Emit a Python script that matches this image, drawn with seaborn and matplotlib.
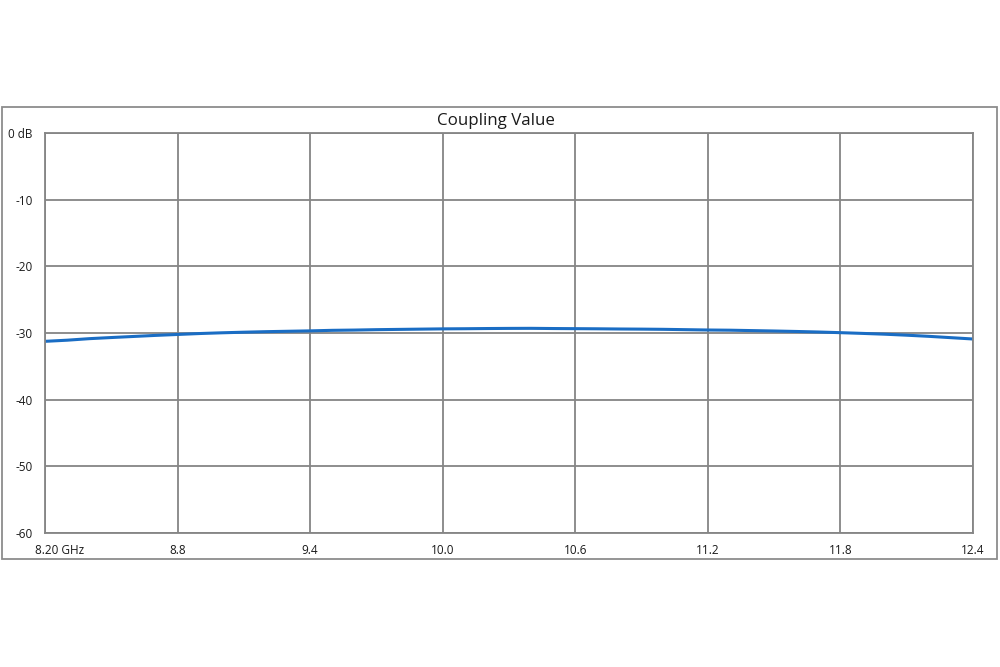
import numpy as np
import pandas as pd
import matplotlib
matplotlib.use("Agg")
import matplotlib.pyplot as plt
import matplotlib.transforms as mtransforms
from matplotlib.patches import Rectangle
import seaborn as sns

# -----------------------------------
# DATA
# -----------------------------------

freq_ghz = [8.2, 8.3, 8.4, 8.5, 8.6, 8.7, 8.8, 8.9, 9.0, 9.1, 9.2,
            9.3, 9.4, 9.5, 9.6, 9.7, 9.8, 9.9, 10.0, 10.1, 10.2,
            10.3, 10.4, 10.5, 10.6, 10.7, 10.8, 10.9, 11.0, 11.1, 11.2,
            11.3, 11.4, 11.5, 11.6, 11.7, 11.8, 11.9, 12.0, 12.1, 12.2,
            12.3, 12.4]

coupling_db = [-31.25, -31.08, -30.85, -30.68, -30.52, -30.36, -30.22, -30.08, -29.97, -29.88, -29.80,
               -29.74, -29.68, -29.60, -29.56, -29.50, -29.46, -29.42, -29.38, -29.36, -29.33,
               -29.31, -29.30, -29.33, -29.35, -29.37, -29.40, -29.42, -29.45, -29.50, -29.55,
               -29.58, -29.64, -29.70, -29.77, -29.85, -29.95, -30.06, -30.18, -30.33, -30.50,
               -30.70, -30.90]

x_ticks = [8.2, 8.8, 9.4, 10.0, 10.6, 11.2, 11.8, 12.4]
x_labels = ["8.20 GHz", "8.8", "9.4", "10.0", "10.6", "11.2", "11.8", "12.4"]
y_ticks = [0, -10, -20, -30, -40, -50, -60]
y_labels = ["0 dB", "-10", "-20", "-30", "-40", "-50", "-60"]

df = pd.DataFrame({"freq": freq_ghz, "coupling": coupling_db})

# -----------------------------------
# PLOT
# -----------------------------------

sns.set_theme(style="white")
plt.rcParams["font.family"] = ["Open Sans", "DejaVu Sans"]

fig = plt.figure(figsize=(10, 6.67), dpi=100)
ax = fig.add_axes([0.045, 0.2009, 0.928, 0.5997])

# outer frame around the whole chart
fig.patches.append(Rectangle((0.002, 0.162), 0.995, 0.678,
                             transform=fig.transFigure, fill=False,
                             edgecolor="#8c8c8c", linewidth=1.3))

sns.lineplot(data=df, x="freq", y="coupling", ax=ax,
             color="#1a6dc4", linewidth=2.2)

ax.set_xlim(8.2, 12.4)
ax.set_ylim(-60, 0)
ax.set_xticks(x_ticks)
ax.set_xticklabels(x_labels)
ax.set_yticks(y_ticks)
ax.set_yticklabels(y_labels)
ax.set_xlabel("")
ax.set_ylabel("")

ax.grid(True, color="#858585", linewidth=1.3)
ax.set_axisbelow(True)
for s in ax.spines.values():
    s.set_color("#858585")
    s.set_linewidth(1.3)

ax.tick_params(axis="both", length=0, labelsize=8.5, colors="#1a1a1a")
ax.tick_params(axis="y", pad=9)
ax.tick_params(axis="x", pad=8)

# first x label sits to the right of its tick
first = ax.get_xticklabels()[0]
first.set_transform(first.get_transform() +
                    mtransforms.ScaledTranslation(0.15, 0, fig.dpi_scale_trans))

# title is centred on the outer frame, not the axes
fig.text(0.496, 0.8186, "Coupling Value", fontsize=12.2,
         ha="center", va="center", color="#1a1a1a")

plt.savefig("out.png", dpi=100)
